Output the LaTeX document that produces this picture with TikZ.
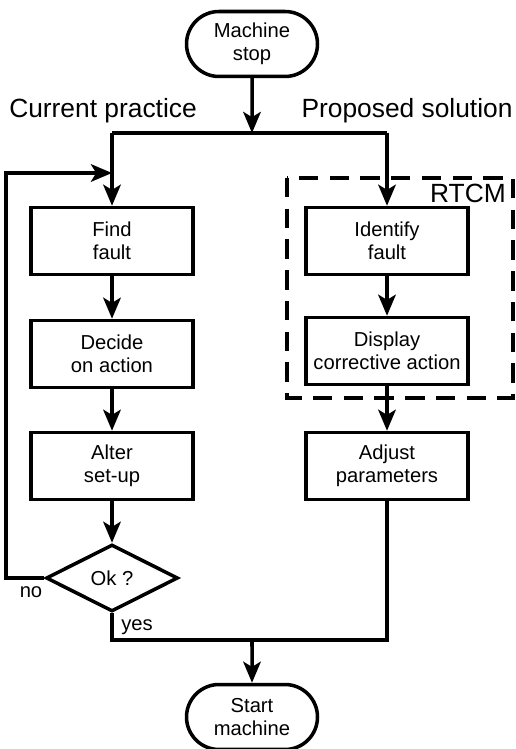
\documentclass[tikz,border=0pt]{standalone}
\usepackage{fontspec}
\setmainfont{Liberation Sans}
\usetikzlibrary{shapes.geometric,shapes.misc,arrows.meta}

\tikzset{
  flow/.style={line width=2pt},
  arr/.style={flow,-{Stealth[length=12pt,width=10pt,inset=3pt]}},
  boxtext/.style={font=\fontsize{11.5}{13}\selectfont},
  stepbox/.style={draw,flow,boxtext,align=center,inner sep=0pt,
    minimum width=3.25cm,minimum height=1.34cm},
  terminal/.style={draw,flow,boxtext,rounded rectangle,align=center,
    inner sep=0pt,minimum width=2.62cm,minimum height=1.3cm},
  test/.style={draw,flow,boxtext,diamond,aspect=2,inner sep=0pt,
    minimum width=2.64cm,minimum height=1.34cm},
  heading/.style={font=\fontsize{15}{17}\selectfont}
}

\begin{document}
\begin{tikzpicture}[x=0.02cm,y=-0.02cm]
\useasboundingbox (0,0) rectangle (516,749);

% Start and end
\node [terminal] (stop) at (252,44) {Machine\\stop};
\node [terminal] (start) at (252,717) {Start\\machine};

% Headings
\node [heading] (cur) at (103,111) {Current practice};
\node [heading] (prop) at (407,111) {Proposed solution};

% Current practice
\node [stepbox] (find) at (112,241) {Find\\fault};
\node [stepbox] (decide) at (112,354) {Decide\\on action};
\node [stepbox] (alter) at (112,466) {Alter\\set-up};
\node [test] (ok) at (112,578) {Ok ?};

% Proposed solution
\node [stepbox] (identify) at (387,241) {Identify\\fault};
\node [stepbox] (display) at (387,351) {Display\\corrective action};
\node [stepbox] (adjust) at (387,466) {Adjust\\parameters};

% RTCM boundary
\draw [line width=2.3pt, dash pattern=on 11pt off 6.5pt] (287,178) rectangle (513,398);
\node [heading, anchor=east] (rtcm) at (512,193) {RTCM};

% Junctions
\coordinate (jl) at (112,133);
\coordinate (jr) at (387,133);
\coordinate (loop) at (112,173);
\coordinate (bl) at (112,640);
\coordinate (br) at (387,640);

% Split
\draw [arr] (stop) -- (stop |- jl);
\draw [flow] (jl) -- (jr);
\draw [arr] (jl) -- (find);
\draw [arr] (jr) -- (identify);

% Left branch
\draw [arr] (find) -- (decide);
\draw [arr] (decide) -- (alter);
\draw [arr] (alter) -- (ok);
\draw [arr] (ok.west) -- ++(-38,0) |- (loop);

% Right branch
\draw [arr] (identify) -- (display);
\draw [arr] (display) -- (adjust);

% Merge
\draw [flow] (ok.south) -- (bl) -- (br) -- (adjust.south);
\draw [arr] (start |- bl) -- (start);

% Labels
\node [boxtext] (no) at (31,592) {no};
\node [boxtext] (yes) at (137,627) {yes};

\end{tikzpicture}
\end{document}
